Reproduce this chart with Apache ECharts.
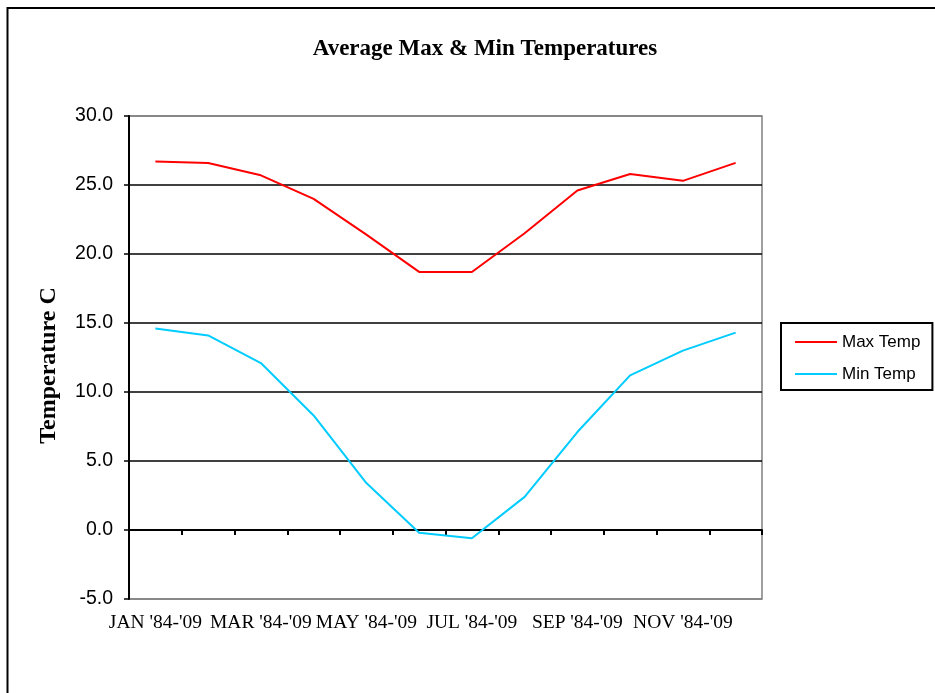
<!DOCTYPE html>
<html>
<head>
<meta charset="utf-8">
<script src="https://cdn.jsdelivr.net/npm/echarts@6/dist/echarts.min.js"></script>
<style>
html,body{margin:0;padding:0;background:#fff;}
#c{width:935px;height:693px;}
</style>
</head>
<body>
<div id="c"></div>
<script>
const months = ["JAN '84-'09","FEB '84-'09","MAR '84-'09","APR '84-'09","MAY '84-'09","JUN '84-'09","JUL '84-'09","AUG '84-'09","SEP '84-'09","OCT '84-'09","NOV '84-'09","DEC '84-'09"];
const maxTemp = [26.7, 26.6, 25.7, 24.0, 21.4, 18.7, 18.7, 21.5, 24.6, 25.8, 25.3, 26.6];
const minTemp = [14.6, 14.1, 12.1, 8.3, 3.4, -0.2, -0.6, 2.4, 7.1, 11.2, 13.0, 14.3];
const seriesNames = ["Max Temp", "Min Temp"];
const titleText = "Average Max & Min Temperatures";
const yAxisTitle = "Temperature C";

const chart = echarts.init(document.getElementById('c'));
chart.setOption({
  animation: false,
  backgroundColor: '#fff',
  graphic: [{
    type: 'rect', silent: true, z: -10,
    shape: {x: 7.5, y: 8, width: 2000, height: 2000},
    style: {fill: 'none', stroke: '#000', lineWidth: 2}
  }],
  title: {
    text: titleText,
    left: 480, top: 33, textAlign: 'center',
    textStyle: {fontFamily: 'Liberation Serif', fontWeight: 'bold', fontSize: 23, color: '#000'}
  },
  grid: {
    left: 129, top: 116, right: 173, bottom: 94,
    show: true, borderColor: '#808080', borderWidth: 1.5, backgroundColor: '#fff'
  },
  legend: {
    orient: 'vertical', left: 781, top: 323,
    padding: [9, 12, 6, 14],
    itemGap: 12, itemWidth: 42, itemHeight: 2,
    icon: 'rect',
    borderColor: '#000', borderWidth: 2,
    textStyle: {fontFamily: 'Liberation Sans', fontSize: 17, color: '#000', lineHeight: 20},
    data: seriesNames
  },
  xAxis: [{
    type: 'category', data: months, position: 'bottom', boundaryGap: true,
    axisLine: {onZero: true, lineStyle: {color: '#000', width: 2}},
    axisTick: {show: true, length: 5, interval: 0, lineStyle: {color: '#000', width: 2}},
    axisLabel: {show: false},
    splitLine: {show: false}
  }, {
    type: 'category', data: months, position: 'bottom', boundaryGap: true,
    axisLine: {show: false, onZero: false},
    axisTick: {show: false},
    axisLabel: {interval: 1, margin: 14, fontFamily: 'Liberation Serif', fontSize: 19.5, color: '#000'},
    splitLine: {show: false}
  }],
  yAxis: {
    type: 'value', min: -5, max: 30, interval: 5,
    name: yAxisTitle, nameLocation: 'middle', nameGap: 68, nameRotate: 90,
    nameTextStyle: {fontFamily: 'Liberation Serif', fontWeight: 'bold', fontSize: 24, color: '#000', padding: [0, 16, 0, 0]},
    axisLine: {show: true, lineStyle: {color: '#000', width: 2}},
    axisTick: {show: true, length: 5, lineStyle: {color: '#000', width: 1.5}},
    axisLabel: {margin: 16, fontFamily: 'Liberation Sans', fontSize: 19.5, color: '#000',
      formatter: v => v.toFixed(1)},
    splitLine: {show: true, lineStyle: {color: ['#808080','#000','#000','#000','#000','#000','#000','#808080'], width: 1.5}}
  },
  series: [{
    name: seriesNames[0], type: 'line', data: maxTemp, xAxisIndex: 0,
    symbol: 'none', lineStyle: {color: '#FF0000', width: 2}, itemStyle: {color: '#FF0000'}
  }, {
    name: seriesNames[1], type: 'line', data: minTemp, xAxisIndex: 0,
    symbol: 'none', lineStyle: {color: '#00CCFF', width: 2}, itemStyle: {color: '#00CCFF'}
  }]
});
</script>
</body>
</html>
